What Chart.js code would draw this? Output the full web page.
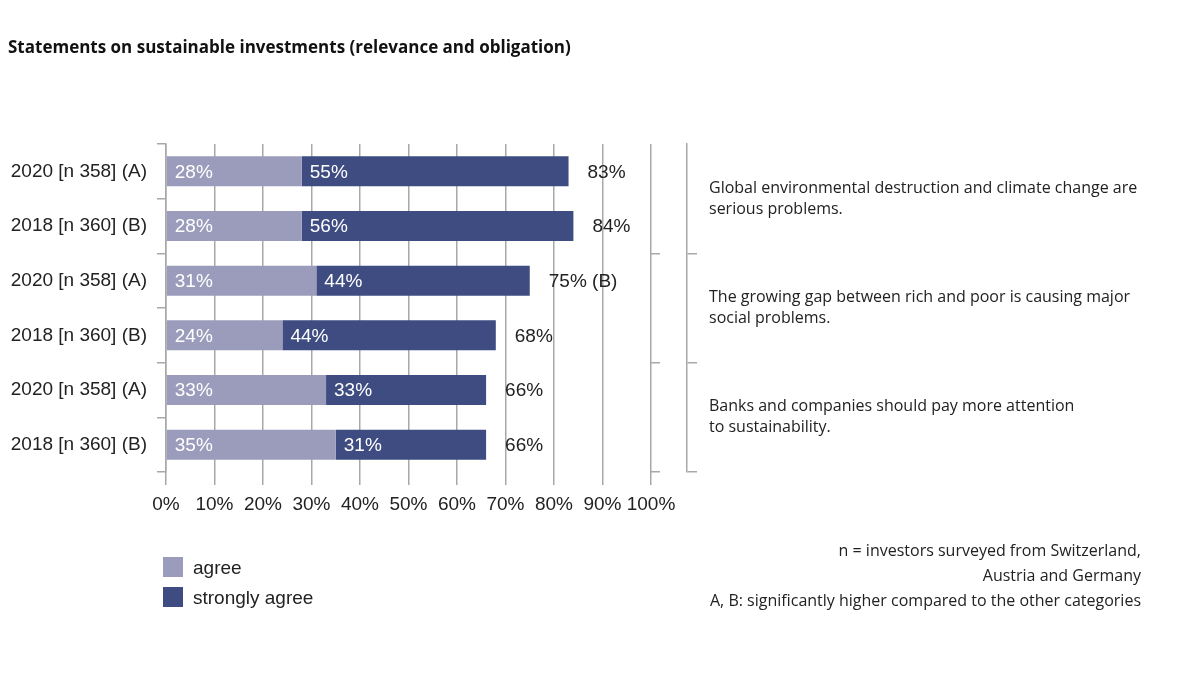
<!DOCTYPE html>
<html>
<head>
<meta charset="utf-8">
<script src="https://cdn.jsdelivr.net/npm/chart.js@4.4.1/dist/chart.umd.min.js"></script>
<style>
    body { margin: 0; background: #fff; }
    #wrap { position: relative; width: 1200px; height: 675px; overflow: hidden; }
    canvas { position: absolute; left: 0; top: 0; }
    .title { position: absolute; left: 8px; top: 35px; font: bold 17px "Open Sans", sans-serif; color: #111; }
    .legend { position: absolute; left: 163px; font: 19px "Liberation Sans", sans-serif; color: #222; }
    .legend span { display: inline-block; width: 20px; height: 20px; vertical-align: -3px; margin-right: 10px; }
    .notes { position: absolute; right: 59px; top: 538px; text-align: right; font: 16px "Open Sans", sans-serif; color: #222; line-height: 25px; }
</style>
</head>
<body>
<div id="wrap">
    <canvas id="chart" width="1200" height="675"></canvas>
    <div class="title">Statements on sustainable investments (relevance and obligation)</div>
    <div class="legend" style="top:557px"><span style="background:#9b9cbb"></span>agree</div>
    <div class="legend" style="top:587px"><span style="background:#3e4c81"></span>strongly agree</div>
    <div class="notes">n = investors surveyed from Switzerland,<br>Austria and Germany<br>A, B: significantly higher compared to the other categories</div>
</div>
<script>
// rows, top to bottom
const rowLabels = ['2020 [n 358] (A)', '2018 [n 360] (B)', '2020 [n 358] (A)', '2018 [n 360] (B)', '2020 [n 358] (A)', '2018 [n 360] (B)'];
const agree = [28, 28, 31, 24, 33, 35];
const stronglyAgree = [55, 56, 44, 44, 33, 31];
const totalNotes = ['', '', ' (B)', '', '', ''];

// statement groups shown on the right, two rows each
const statements = [
    ['Global environmental destruction and climate change are', 'serious problems.'],
    ['The growing gap between rich and poor is causing major', 'social problems.'],
    ['Banks and companies should pay more attention', 'to sustainability.']
];

const xTicks = [0, 10, 20, 30, 40, 50, 60, 70, 80, 90, 100];

const GRID = '#a8a8a8';
const chartFont = { family: '"Liberation Sans", sans-serif', size: 19 };

// writes the segment values inside the bars and the total after them
const barLabels = {
    id: 'barLabels',
    afterDatasetsDraw(chart) {
        let ctx = chart.ctx;
        ctx.save();
        ctx.font = '19px "Liberation Sans", sans-serif';
        ctx.textBaseline = 'middle';
        ctx.textAlign = 'left';
        chart.data.datasets.forEach((ds, di) => {
            let meta = chart.getDatasetMeta(di);
            meta.data.forEach((bar, i) => {
                ctx.fillStyle = '#fff';
                ctx.fillText(ds.data[i] + '%', bar.base + 8, bar.y + 1);
            });
        });
        let last = chart.getDatasetMeta(chart.data.datasets.length - 1);
        last.data.forEach((bar, i) => {
            let total = agree[i] + stronglyAgree[i];
            ctx.fillStyle = '#222';
            ctx.fillText(total + '%' + totalNotes[i], bar.x + 19, bar.y + 1);
        });
        ctx.restore();
    }
};

// hide the top tick on the right-hand group axes
const skipFirst = (c) => c.index === 0 ? 'rgba(0,0,0,0)' : GRID;

new Chart(document.getElementById('chart'), {
    type: 'bar',
    data: {
        labels: rowLabels,
        datasets: [{
            label: 'agree',
            data: agree,
            backgroundColor: '#9b9cbb',
            barPercentage: 0.55,
            categoryPercentage: 1
        }, {
            label: 'strongly agree',
            data: stronglyAgree,
            backgroundColor: '#3e4c81',
            barPercentage: 0.55,
            categoryPercentage: 1
        }]
    },
    options: {
        indexAxis: 'y',
        responsive: false,
        animation: false,
        layout: { padding: { left: 0, right: 0, top: 144, bottom: 153 } },
        plugins: {
            legend: { display: false },
            tooltip: { enabled: false }
        },
        scales: {
            x: {
                stacked: true,
                min: 0,
                max: 100,
                afterBuildTicks: (scale) => { scale.ticks = xTicks.map(v => ({ value: v })); },
                afterFit: (scale) => { scale.height = 50; },
                grid: { color: GRID, lineWidth: 1.5, tickLength: 13 },
                border: { display: false },
                ticks: {
                    callback: (v) => v + '%',
                    color: '#222',
                    font: chartFont,
                    padding: 8,
                    maxRotation: 0,
                    autoSkip: false
                }
            },
            y: {
                stacked: true,
                afterFit: (scale) => { scale.width = 166; },
                grid: { color: GRID, lineWidth: 1.5, tickLength: 9, drawOnChartArea: false },
                border: { display: true, color: GRID, width: 1.5 },
                ticks: { color: '#222', font: chartFont, padding: 10 }
            },
            y2: {
                type: 'category',
                position: 'right',
                labels: statements.map(s => s.join(' ')),
                afterFit: (scale) => { scale.width = 36; },
                grid: { color: skipFirst, lineWidth: 1.5, tickLength: 9, drawOnChartArea: false },
                border: { display: false },
                ticks: { display: false }
            },
            y3: {
                type: 'category',
                position: 'right',
                labels: statements,
                afterFit: (scale) => { scale.width = 513; },
                grid: { color: skipFirst, lineWidth: 1.5, tickLength: 10, drawOnChartArea: false },
                border: { display: true, color: GRID, width: 1.5 },
                ticks: {
                    color: '#222',
                    font: { family: '"Open Sans", sans-serif', size: 16, lineHeight: 1.31 },
                    padding: 12
                }
            }
        }
    },
    plugins: [barLabels]
});
</script>
</body>
</html>
